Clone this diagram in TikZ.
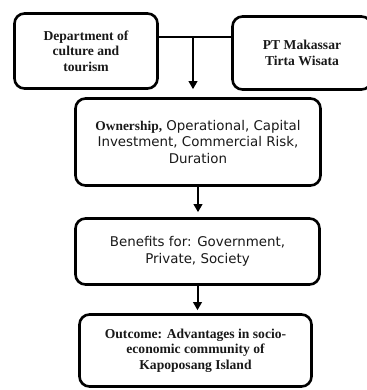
\documentclass[tikz,border=0pt]{standalone}
\usepackage{fontspec}
\setmainfont{Liberation Serif}
\newfontfamily\verdanalike{DejaVu Sans}
\usetikzlibrary{calc, arrows.meta}

\begin{document}
\begin{tikzpicture}[x=1pt, y=-1pt,
box_style/.style={rectangle, draw=black, line width=2.6pt, rounded corners=10pt, align=center, text=black!90, inner sep=2pt},
serif_text/.style={font=\fontsize{13.6}{15.5}\selectfont\bfseries},
sans_text/.style={font=\fontsize{13.4}{16.5}\selectfont\verdanalike},
edge_style/.style={line width=2pt, black},
arrow_style/.style={edge_style, -{Triangle[length=8pt, width=8.5pt]}},
]

	\useasboundingbox (0,0) rectangle (366,390);

	% top row
	\node[box_style, serif_text, minimum width=143pt, minimum height=75pt] at (86,51) (dept) {Department of\\culture and\\tourism};
	\node[box_style, serif_text, minimum width=139pt, minimum height=73pt] at (302,53) (ptmts) {PT Makassar\\Tirta Wisata};

	% middle and bottom boxes
	\node[box_style, sans_text, minimum width=245pt, minimum height=87pt] at (198,142) (own) {{\rmfamily\bfseries Ownership,} Operational, Capital\\Investment, Commercial Risk,\\Duration};
	\node[box_style, sans_text, minimum width=244pt, minimum height=66pt] at (197.5,251.5) (ben) {Benefits for: Government,\\Private, Society};
	\node[box_style, serif_text, minimum width=232pt, minimum height=72pt] at (195.5,350.5) (outc) {Outcome: Advantages in socio-\\economic community of\\Kapoposang Island};

	\coordinate (junc) at (193,37);

	\draw[edge_style] (dept.east |- junc) -- (ptmts.west |- junc);
	\draw[arrow_style, shorten >=8pt] (junc) -- (junc |- own.north);
	\draw[arrow_style, shorten >=5pt] (own.south) -- (own.south |- ben.north);
	\draw[arrow_style, shorten >=3pt] (ben.south) -- (ben.south |- outc.north);

\end{tikzpicture}
\end{document}
